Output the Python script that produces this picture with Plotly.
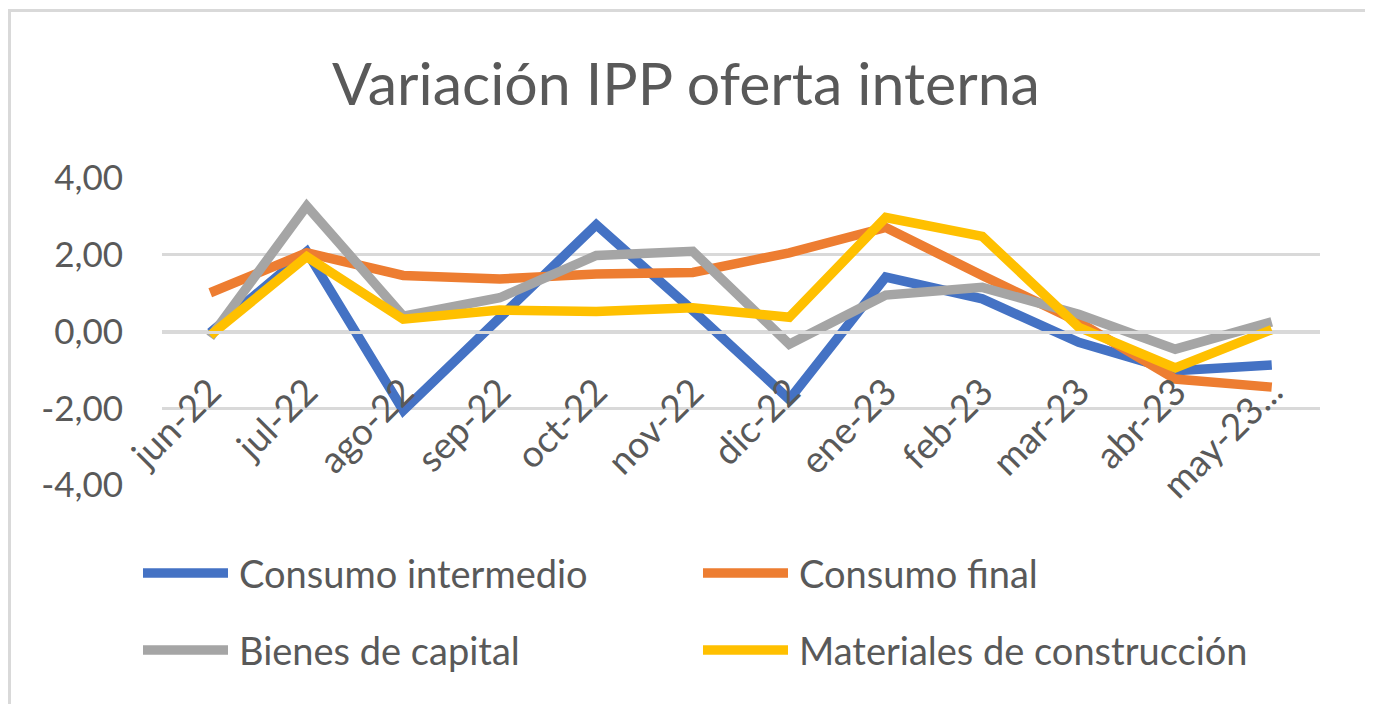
import plotly.graph_objects as go

months = ["jun-22", "jul-22", "ago-22", "sep-22", "oct-22", "nov-22",
          "dic-22", "ene-23", "feb-23", "mar-23", "abr-23", "may-23..."]

consumo_intermedio = [-0.03, 2.08, -2.06, 0.36, 2.78, 0.55, -1.77, 1.42, 0.85, -0.28, -1.02, -0.87]
consumo_final = [1.01, 2.05, 1.46, 1.37, 1.50, 1.54, 2.05, 2.71, 1.46, 0.25, -1.24, -1.45]
bienes_capital = [-0.15, 3.27, 0.40, 0.88, 1.98, 2.09, -0.33, 0.95, 1.15, 0.45, -0.46, 0.25]
materiales_construccion = [-0.10, 1.95, 0.32, 0.56, 0.52, 0.62, 0.37, 2.97, 2.48, 0.11, -0.95, 0.05]

series_names = ["Consumo intermedio", "Consumo final", "Bienes de capital", "Materiales de construcción"]
series_values = [consumo_intermedio, consumo_final, bienes_capital, materiales_construccion]
series_colors = ["#4472C4", "#ED7D31", "#A5A5A5", "#FFC000"]

y_tick_vals = [-4, -2, 0, 2, 4]
y_tick_text = ["-4,00", "-2,00", "0,00", "2,00", "4,00"]

title_text = "Variación IPP oferta interna"

FONT = "Lato, 'Open Sans', sans-serif"
TXT = "#595959"
GRID = "#D9D9D9"

# page offset (browser body margin)
O = 8
W, H = 1373 - O, 704 - O
# plot area in page pixels: x 162..1320, y 178..485
ML = 162 - O
MR = W - (1320 - O)
MT = 178 - O
MB = H - (485 - O)
PW = W - ML - MR
PH = H - MT - MB


def px_x(px):
    return (px - O - ML) / PW


def px_y(py):
    return (H - MB - (py - O)) / PH


fig = go.Figure()
for name, vals, col in zip(series_names, series_values, series_colors):
    fig.add_trace(go.Scatter(
        x=months, y=vals, name=name, mode="lines",
        line=dict(color=col, width=9.5),
        showlegend=False,
    ))

# custom legend (2x2 grid) with long line samples
legend_cols = [139, 699]
legend_rows = [573, 650]
shapes = []
annotations = []
for i, (name, col) in enumerate(zip(series_names, series_colors)):
    cx = legend_cols[i % 2]
    ry = legend_rows[i // 2]
    shapes.append(dict(type="line", xref="paper", yref="paper",
                       x0=px_x(cx + 4), x1=px_x(cx + 89), y0=px_y(ry), y1=px_y(ry),
                       line=dict(color=col, width=9.5)))
    annotations.append(dict(xref="paper", yref="paper", x=px_x(cx + 98), y=px_y(ry),
                            xanchor="left", yanchor="middle", showarrow=False,
                            text=name, font=dict(family=FONT, size=38, color=TXT)))

# outer chart border
shapes.append(dict(type="rect", xref="paper", yref="paper",
                   x0=px_x(9.5), x1=px_x(1368.5), y0=px_y(720), y1=px_y(10.5),
                   line=dict(color=GRID, width=3), fillcolor="rgba(0,0,0,0)", layer="below"))

fig.update_layout(
    width=W, height=H,
    margin=dict(l=ML, r=MR, t=MT, b=MB),
    paper_bgcolor="white", plot_bgcolor="white",
    title=dict(text=title_text, x=(686 - O) / W, xanchor="center", y=1 - (84 - O) / H, yanchor="middle",
               xref="container", yref="container", font=dict(family=FONT, size=59, color=TXT)),
    font=dict(family=FONT, color=TXT),
    shapes=shapes,
    annotations=annotations,
    xaxis=dict(
        type="category", range=[-0.5, len(months) - 0.5],
        anchor="free", position=0.5,
        showgrid=False, showline=True, linecolor=GRID, linewidth=2.5,
        ticks="outside", ticklen=22, tickcolor="rgba(0,0,0,0)", tickangle=-45,
        tickfont=dict(family=FONT, size=37, color=TXT),
    ),
    yaxis=dict(
        range=[-4, 4], tickvals=y_tick_vals, ticktext=y_tick_text,
        showgrid=True, gridcolor=GRID, gridwidth=2.5,
        zeroline=False, showline=False, ticks="",
        ticklabelstandoff=38,
        tickfont=dict(family=FONT, size=35, color=TXT),
    ),
    showlegend=False,
)

fig.write_html("out.html")
